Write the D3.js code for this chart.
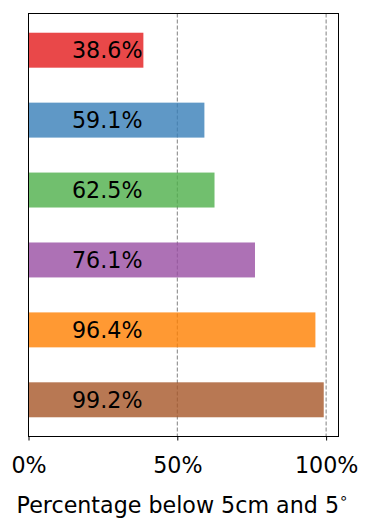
<!DOCTYPE html>
<html><head><meta charset="utf-8">
<script src="https://cdn.jsdelivr.net/npm/d3@7"></script>
<style>body{margin:0;background:#fff}svg{display:block}text{font-family:"DejaVu Sans",sans-serif}</style>
</head><body>
<svg id="c" width="366" height="529"></svg>
<script>
const categories = ["A","B","C","D","E","F"];
const values = [38.6, 59.1, 62.5, 76.1, 96.4, 99.2];
const colors = ["#e41a1c","#377eb8","#4daf4a","#984ea3","#ff7f00","#a65628"];
const xTicks = [0, 50, 100];
const gridValues = [50, 100];
const labelAnchorValue = 38.3;
const xLabel = "Percentage below 5cm and 5";

const svg = d3.select("#c");
const L = 28.5, R = 338.5, T = 13.5, B = 436.5;
const FS = 22.2;
const x = d3.scaleLinear().domain([0, d3.max(values) * 1.05]).range([L, R]);
const y = d3.scaleLinear().domain([-0.525, categories.length - 1 + 0.525]).range([T, B]);
const barH = y(0.5) - y(0);

svg.append("g").selectAll("line").data(gridValues).join("line")
  .attr("x1", d => x(d)).attr("x2", d => x(d)).attr("y1", T).attr("y2", B)
  .attr("stroke", "#808080").attr("stroke-width", 1).attr("stroke-dasharray", "4,2");

svg.append("g").selectAll("rect").data(values).join("rect")
  .attr("x", x(0)).attr("y", (d, i) => y(i) - barH / 2)
  .attr("width", d => x(d) - x(0)).attr("height", barH)
  .attr("fill", (d, i) => colors[i]).attr("fill-opacity", 0.8);

svg.append("g").selectAll("text").data(values).join("text")
  .attr("x", x(labelAnchorValue)).attr("y", (d, i) => y(i))
  .attr("dy", "0.36em").attr("text-anchor", "end")
  .attr("font-size", FS).attr("fill", "#000")
  .text(d => d.toFixed(1) + "%");

svg.append("rect").attr("x", L).attr("y", T).attr("width", R - L).attr("height", B - T)
  .attr("fill", "none").attr("stroke", "#000").attr("stroke-width", 1);

const ax = svg.append("g").attr("transform", `translate(0,${B})`)
  .call(d3.axisBottom(x).tickValues(xTicks).tickFormat(d => d + "%").tickSize(4).tickPadding(17));
ax.select(".domain").remove();
ax.selectAll("text").attr("font-size", FS).attr("font-family", "DejaVu Sans").attr("fill", "#000");
ax.selectAll("line").attr("stroke", "#000");

const lab = svg.append("text").attr("x", 182.5).attr("y", 513)
  .attr("text-anchor", "middle").attr("font-size", FS).attr("fill", "#000");
lab.append("tspan").text(xLabel);
lab.append("tspan").attr("dy", -10).attr("font-size", 15).text("\u2218");
</script>
</body></html>
